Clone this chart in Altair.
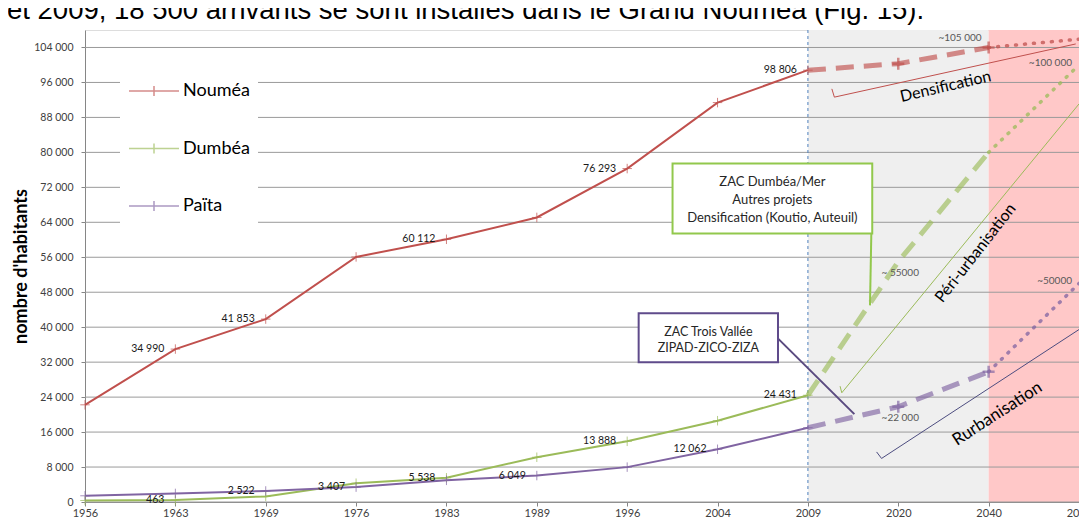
import altair as alt
import pandas as pd

# ---------------- data ----------------
years = ["1956", "1963", "1969", "1976", "1983", "1989", "1996", "2004", "2009", "2020", "2040", "2050"]
series_names = ["Nouméa", "Dumbéa", "Païta"]
series_colors = ["#c0504d", "#9bbb59", "#8064a2"]

# census values 1956 -> 2009
noumea_hist = [22235, 34990, 41853, 56078, 60112, 65110, 76293, 91386, 98806]
dumbea_hist = [350, 463, 1280, 4300, 5538, 10240, 13888, 18602, 24431]
paita_hist = [1420, 1960, 2522, 3407, 4960, 6049, 7980, 12062, 17000]

# projections 2009 -> 2020 -> 2040 (dashed)
proj_years = ["2009", "2020", "2040"]
noumea_proj = [98806, 100300, 104000]
dumbea_proj = [24431, 55000, 80000]
paita_proj = [17000, 21800, 29800]

# outlook 2040 -> 2050 (dotted)
out_years = ["2040", "2050"]
noumea_out = [104000, 105900]
dumbea_out = [80000, 100000]
paita_out = [29800, 50000]

# which census points carry a value label
noumea_labelled = ["1963", "1969", "1983", "1996", "2009"]
dumbea_labelled = ["1963", "1983", "1996", "2009"]
paita_labelled = ["1969", "1976", "1989", "2004"]

# projection value labels (series, year, text)
proj_label_series = ["Nouméa", "Dumbéa", "Dumbéa", "Païta", "Païta"]
proj_label_years = ["2040", "2050", "2020", "2050", "2020"]
proj_label_text = ["~105 000", "~100 000", "~ 55000", "~50000", "~22 000"]

y_ticks = list(range(0, 104001, 8000))

# shaded periods (category index range)
period_start = [8, 10]
period_end = [10, 11]
period_fill = ["#efefef", "#ffc8c8"]

# thin trend arrows (x in category units, y in inhabitants)
densif_x = [8.265, 8.293, 10.964]
densif_y = [94530, 92640, 104810]
peri_x = [8.356, 8.375, 11.0]
peri_y = [26500, 24990, 91080]
rurb_x = [8.760, 8.815, 11.0]
rurb_y = [11455, 9967, 39460]

trend_text = ["Densification", "Péri-urbanisation", "Rurbanisation"]
trend_text_x = [9.524, 9.855, 10.097]
trend_text_y = [95050, 56940, 20180]

# callout boxes
box_x0 = [6.502, 6.127]
box_x1 = [8.712, 7.669]
box_y0 = [61450, 31980]
box_y1 = [77460, 43180]
box_line_text = ["ZAC Dumbéa/Mer", "Autres projets", "Densification (Koutio,  Auteuil)",
                 "ZAC Trois  Vallée", "ZIPAD-ZICO-ZIZA"]
box_line_x = [7.607, 7.607, 7.607, 6.898, 6.898]
box_line_y = [73170, 69110, 65060, 38900, 35130]
conn1_x = [8.709, 8.687]
conn1_y = [69340, 44990]
conn2_x = [7.670, 8.514]
conn2_y = [37390, 20110]

sentence = "et 2009, 18 500 arrivants se sont installés dans le Grand Nouméa (Fig. 15)."

# ---------------- tables ----------------
color_of = dict(zip(series_names, series_colors))
idx_of = {y: i for i, y in enumerate(years)}


def fmt(v):
    return f"{v:,}".replace(",", " ")


rows = []
for name, vals, lab in zip(series_names, [noumea_hist, dumbea_hist, paita_hist],
                           [noumea_labelled, dumbea_labelled, paita_labelled]):
    for i, v in enumerate(vals):
        rows.append({"series": name, "idx": i, "value": v, "col": color_of[name],
                     "label": fmt(v) if years[i] in lab else ""})
hist = pd.DataFrame(rows)

rows = []
for name, vals in zip(series_names, [noumea_proj, dumbea_proj, paita_proj]):
    for y, v in zip(proj_years, vals):
        rows.append({"series": name, "idx": idx_of[y], "value": v, "col": color_of[name]})
proj = pd.DataFrame(rows)

rows = []
for name, vals in zip(series_names, [noumea_out, dumbea_out, paita_out]):
    for y, v in zip(out_years, vals):
        rows.append({"series": name, "idx": idx_of[y], "value": v, "col": color_of[name]})
outl = pd.DataFrame(rows)

proj_cross = proj[(proj["series"] != "Dumbéa") & (proj["idx"] > 8)]

all_vals = {(r.series, r.idx): r.value for r in pd.concat([proj, outl]).itertuples()}
plab = pd.DataFrame({
    "series": proj_label_series,
    "idx": [idx_of[y] for y in proj_label_years],
    "text": proj_label_text,
})
plab["value"] = [all_vals[(s, i)] for s, i in zip(plab["series"], plab["idx"])]

periods = pd.DataFrame({"x0": period_start, "x1": period_end, "fill": period_fill})
grid = pd.DataFrame({"v": y_ticks})

trend_rows = []
for name, xs_, ys_, c in zip(trend_text, [densif_x, peri_x, rurb_x], [densif_y, peri_y, rurb_y],
                             ["#c0504d", "#9bbb59", "#4d4d80"]):
    for k, (a, b) in enumerate(zip(xs_, ys_)):
        trend_rows.append({"name": name, "k": k, "x": a, "y": b, "col": c})
trend = pd.DataFrame(trend_rows)
trend_lbl = pd.DataFrame({"t": trend_text, "x": trend_text_x, "y": trend_text_y,
                          "ang": [347, 308, 327], "fs": [16, 16, 17]})

conn = pd.DataFrame({
    "name": ["a", "a", "b", "b"],
    "k": [0, 1, 0, 1],
    "x": conn1_x + conn2_x,
    "y": conn1_y + conn2_y,
    "col": ["#92c84c", "#92c84c", "#5a4a80", "#5a4a80"],
})
boxes = pd.DataFrame({"x0": box_x0, "x1": box_x1, "y0": box_y0, "y1": box_y1,
                      "col": ["#92c84c", "#5f4b8b"]})
box_lines = pd.DataFrame({"t": box_line_text, "x": box_line_x, "y": box_line_y,
                          "fs": [13, 13, 13, 12.5, 12.5]})

# ---------------- scales / axes ----------------
W, H = 994, 472
xs = alt.Scale(domain=[0, 11], nice=False, zero=False)
ys = alt.Scale(domain=[0, 108000], nice=False, zero=True)
FONT = "Lato"

x_label_expr = "[" + ",".join(f"'{y}'" for y in years) + "][datum.value]"
x_axis = alt.Axis(values=list(range(12)), labelExpr=x_label_expr, title=None, grid=False,
                  domainColor="#868686", tickColor="#868686", tickSize=4, labelPadding=1,
                  labelFont=FONT, labelFontSize=11, labelColor="#404040", labelAngle=0,
                  labelFlush=False, labelOverlap=False)
y_axis = alt.Axis(values=y_ticks, labelExpr="replace(format(datum.value, ','), ',', ' ')",
                  title="nombre d'habitants", grid=False, domainColor="#868686",
                  tickColor="#868686", tickSize=4, labelPadding=8, labelFont=FONT,
                  labelFontSize=10.5, labelColor="#404040", titleFont=FONT,
                  titleFontSize=18, titleFontWeight="bold", titleColor="black",
                  titlePadding=3)


def X(field):
    return alt.X(field, type="quantitative", scale=xs, axis=x_axis, title=None)


def Y(field):
    return alt.Y(field, type="quantitative", scale=ys, axis=y_axis, title="nombre d'habitants")


# ---------------- layers ----------------
bg = alt.Chart(periods).mark_rect().encode(
    x=X("x0"), x2="x1", fill=alt.Fill("fill:N", scale=None))

gridl = alt.Chart(grid).mark_rule(color="#9a9a9a", strokeWidth=1).encode(y=Y("v"))

vline = alt.Chart(pd.DataFrame({"x": [8]})).mark_rule(
    color="#4f81bd", strokeDash=[3, 3], strokeWidth=1).encode(x=X("x"))

trend_lines = alt.Chart(trend).mark_line(strokeWidth=1).encode(
    x=X("x"), y=Y("y"), detail="name:N", order="k:Q",
    color=alt.Color("col:N", scale=None))

conn_lines = alt.Chart(conn).mark_line(strokeWidth=2).encode(
    x=X("x"), y=Y("y"), detail="name:N", order="k:Q",
    color=alt.Color("col:N", scale=None))

box_rect = alt.Chart(boxes).mark_rect(fill="white", strokeWidth=2).encode(
    x=X("x0"), x2="x1", y=Y("y0"), y2="y1",
    stroke=alt.Stroke("col:N", scale=None))

box_txt = alt.Chart(box_lines).mark_text(font=FONT, color="#262626",
                                         align="center", baseline="middle").encode(
    x=X("x"), y=Y("y"), text="t:N", size=alt.Size("fs:Q", scale=None))

out_lines = alt.Chart(outl).mark_line(strokeWidth=3.5, strokeDash=[1, 8], strokeCap="round",
                                      strokeOpacity=0.75).encode(
    x=X("idx"), y=Y("value"), detail="series:N", color=alt.Color("col:N", scale=None))

proj_lines = alt.Chart(proj).mark_line(strokeWidth=5, strokeDash=[18, 10],
                                       strokeOpacity=0.65).encode(
    x=X("idx"), y=Y("value"), detail="series:N", color=alt.Color("col:N", scale=None))

cross = "M-1,0H1M0,-1V1"
proj_marks = alt.Chart(proj_cross).mark_point(shape=cross, filled=False, size=144,
                                              strokeWidth=2.5, opacity=0.65).encode(
    x=X("idx"), y=Y("value"), color=alt.Color("col:N", scale=None))

hist_lines = alt.Chart(hist).mark_line(strokeWidth=2).encode(
    x=X("idx"), y=Y("value"),
    color=alt.Color("series:N",
                    scale=alt.Scale(domain=series_names, range=series_colors),
                    sort=series_names,
                    legend=alt.Legend(title=None, orient="none", legendX=35, legendY=27,
                                      fillColor="white", padding=8,
                                      symbolType="M-1,0H1M0,-0.2V0.2", symbolSize=2500,
                                      symbolStrokeWidth=1.5, labelFont=FONT,
                                      labelFontSize=18, labelColor="black",
                                      rowPadding=22.5, labelOffset=3)))

hist_marks = alt.Chart(hist).mark_point(shape=cross, filled=False, size=90,
                                        strokeWidth=1).encode(
    x=X("idx"), y=Y("value"), color=alt.Color("col:N", scale=None))

hist_lbl = alt.Chart(hist[hist["label"] != ""]).mark_text(
    align="right", baseline="middle", dx=-11, font=FONT, fontSize=10.5, color="#1a1a1a").encode(
    x=X("idx"), y=Y("value"), text="label:N")

pl_style = dict(font=FONT, fontSize=10, color="#595959")
pl_left = alt.Chart(plab[plab["idx"] == 11]).mark_text(
    align="right", baseline="middle", dx=-7, dy=-2, **pl_style).encode(
    x=X("idx"), y=Y("value"), text="text:N")
pl_above = alt.Chart(plab[plab["idx"] == 10]).mark_text(
    align="right", baseline="middle", dx=-7, dy=-9, **pl_style).encode(
    x=X("idx"), y=Y("value"), text="text:N")
pl_below = alt.Chart(plab[plab["idx"] == 9]).mark_text(
    align="center", baseline="middle", dx=2, dy=11, **pl_style).encode(
    x=X("idx"), y=Y("value"), text="text:N")

trend_txt = alt.Chart(trend_lbl).mark_text(font=FONT, color="black", align="center",
                                           baseline="middle").encode(
    x=X("x"), y=Y("y"), text="t:N", angle=alt.Angle("ang:Q", scale=None),
    size=alt.Size("fs:Q", scale=None))

top_txt = alt.Chart(pd.DataFrame({"t": [sentence]})).mark_text(
    align="left", baseline="alphabetic", font="Liberation Sans", fontSize=27.5,
    color="black").encode(x=alt.value(-78), y=alt.value(-11), text="t:N")

chart = alt.layer(
    bg, gridl, vline, trend_lines, conn_lines, box_rect, box_txt,
    out_lines, proj_lines, proj_marks, hist_lines, hist_marks, hist_lbl,
    pl_left, pl_above, pl_below, trend_txt, top_txt,
).properties(
    width=W, height=H,
    autosize=alt.AutoSizeParams(type="none"),
    padding={"left": 77, "top": 22, "right": 0, "bottom": 15},
).configure_view(stroke=None).configure(background="white")

chart.save("out.html", embed_options={"renderer": "svg", "actions": False})
